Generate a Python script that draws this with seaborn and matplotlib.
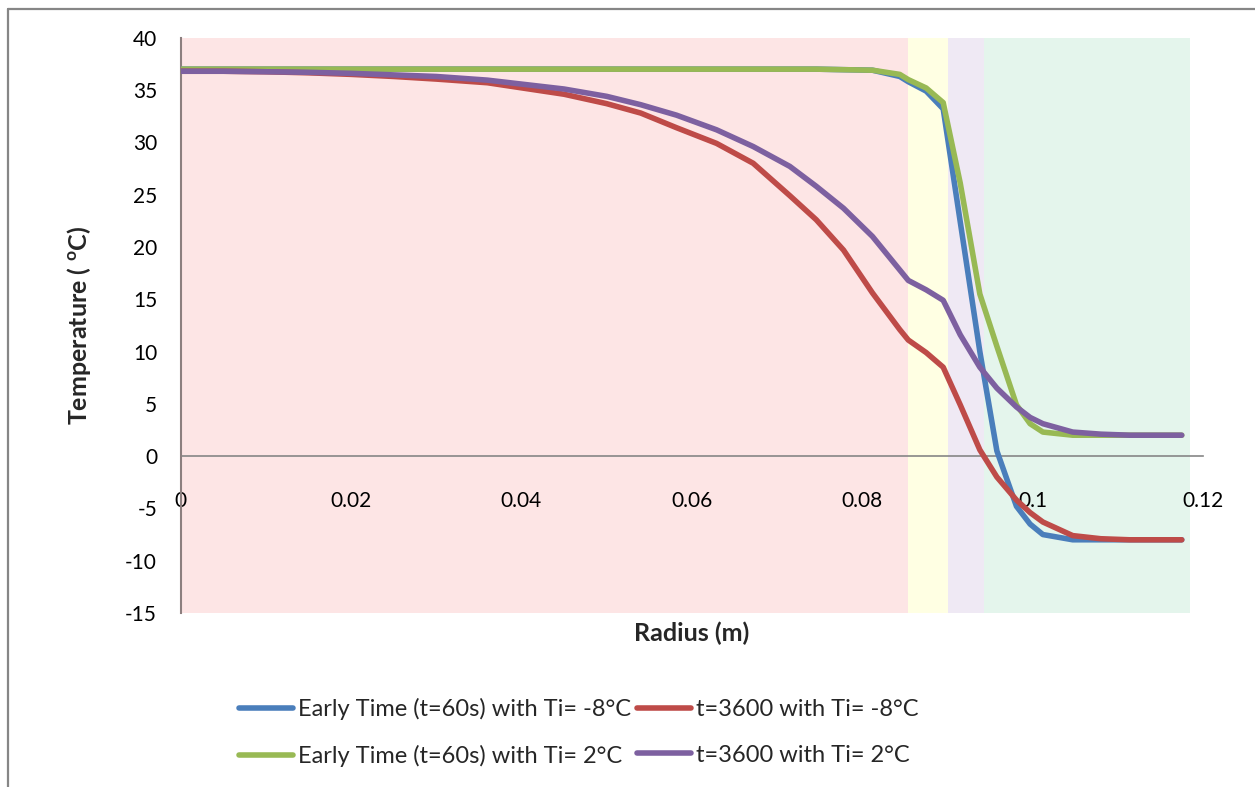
import numpy as np
import pandas as pd
import matplotlib.pyplot as plt
import seaborn as sns
from matplotlib.lines import Line2D

# radius grid (m)
radius = [0.0, 0.005, 0.01, 0.015, 0.02, 0.025, 0.03, 0.036, 0.045, 0.05,
          0.054, 0.0582, 0.0629, 0.0672, 0.0715, 0.0746, 0.0778, 0.0812, 0.0844,
          0.0854, 0.0875, 0.0895, 0.0915, 0.0938, 0.0958, 0.0981, 0.0997, 0.1012,
          0.1047, 0.108, 0.1114, 0.1145, 0.1175]

early_m8 = [37.0, 37.0, 37.0, 37.0, 37.0, 37.0, 37.0, 37.0, 37.0, 37.0,
            37.0, 37.0, 37.0, 37.0, 37.0, 37.0, 36.95, 36.9, 36.3,
            35.8, 34.9, 33.2, 22.4, 10.0, 0.5, -4.8, -6.5, -7.5,
            -8.0, -8.0, -8.0, -8.0, -8.0]

late_m8 = [36.8, 36.8, 36.75, 36.65, 36.5, 36.3, 36.05, 35.7, 34.6, 33.7,
           32.8, 31.4, 29.9, 28.0, 24.9, 22.6, 19.7, 15.6, 12.1,
           11.1, 9.9, 8.5, 4.9, 0.6, -2.0, -4.2, -5.4, -6.3,
           -7.6, -7.9, -8.0, -8.0, -8.0]

early_p2 = [37.0, 37.0, 37.0, 37.0, 37.0, 37.0, 37.0, 37.0, 37.0, 37.0,
            37.0, 37.0, 37.0, 37.0, 37.0, 37.0, 36.95, 36.9, 36.5,
            36.0, 35.2, 33.8, 26.1, 15.5, 10.5, 4.9, 3.1, 2.3,
            2.0, 2.0, 2.0, 2.0, 2.0]

late_p2 = [36.8, 36.8, 36.75, 36.7, 36.6, 36.45, 36.3, 35.95, 35.1, 34.4,
           33.6, 32.6, 31.2, 29.6, 27.7, 25.8, 23.7, 21.0, 17.8,
           16.8, 15.9, 14.9, 11.6, 8.5, 6.5, 4.7, 3.7, 3.1,
           2.3, 2.1, 2.0, 2.0, 2.0]

labels = ['Early Time (t=60s) with Ti= -8\u00b0C', 't=3600 with Ti= -8\u00b0C',
          'Early Time (t=60s) with Ti= 2\u00b0C', 't=3600 with Ti= 2\u00b0C']
colors = ['#4A7EBB', '#BE4B48', '#98B954', '#7D60A0']

# layer boundaries (m)
layers = [0.0, 0.0854, 0.0901, 0.0943, 0.1185]
layer_colors = ['#FDE5E5', '#FFFFE3', '#EFE9F4', '#E4F5EC']

df = pd.concat([
    pd.DataFrame({'radius': radius, 'temp': early_m8, 'series': labels[0]}),
    pd.DataFrame({'radius': radius, 'temp': late_m8, 'series': labels[1]}),
    pd.DataFrame({'radius': radius, 'temp': early_p2, 'series': labels[2]}),
    pd.DataFrame({'radius': radius, 'temp': late_p2, 'series': labels[3]}),
])

sns.set_style('white')
plt.rcParams['font.family'] = ['Lato', 'DejaVu Sans']
plt.rcParams['axes.unicode_minus'] = False
plt.rcParams['mathtext.fontset'] = 'custom'
plt.rcParams['mathtext.bf'] = 'Lato:bold'
plt.rcParams['mathtext.rm'] = 'Lato'

fig = plt.figure(figsize=(12.55, 7.87), dpi=100)
ax = fig.add_axes([0.144, 0.2211, 0.8146, 0.7309])

for i in range(4):
    ax.axvspan(layers[i], layers[i + 1], color=layer_colors[i], lw=0, zorder=0)

order = [labels[0], labels[2], labels[1], labels[3]]
pal = dict(zip(labels, colors))
sns.lineplot(data=df, x='radius', y='temp', hue='series', hue_order=order,
             palette=pal, lw=4, legend=False, ax=ax, zorder=3,
             solid_capstyle='round', solid_joinstyle='round')

ax.set_xlim(0, 0.12)
ax.set_ylim(-15, 40)
ax.set_xticks([0, 0.02, 0.04, 0.06, 0.08, 0.1, 0.12])
ax.set_xticklabels(['0', '0.02', '0.04', '0.06', '0.08', '0.1', '0.12'])
ax.set_yticks(range(-15, 41, 5))

for s in ['top', 'right']:
    ax.spines[s].set_visible(False)
ax.spines['bottom'].set_position(('data', 0))
ax.spines['bottom'].set_color('#868686')
ax.spines['left'].set_color('#8C7F7F')
ax.spines['bottom'].set_linewidth(1.2)
ax.spines['left'].set_linewidth(1.5)
ax.spines['bottom'].set_zorder(2)

ax.tick_params(axis='x', direction='out', length=5, width=1.2, color='#868686',
               pad=20, labelsize=15, labelcolor='black')
ax.tick_params(axis='y', direction='out', length=6, width=1.2, color='#868686',
               pad=11, labelsize=15, labelcolor='black')

ax.set_xlabel('Radius (m)', fontsize=18, fontweight='bold')
ax.xaxis.set_label_coords(0.5, -0.014)
ax.set_ylabel(r'Temperature ( $^{\mathbf{o}}$C)', fontsize=18, fontweight='bold')
ax.yaxis.set_label_coords(-0.086, 0.5)

handles = [Line2D([], [], color=c, lw=4, solid_capstyle='round') for c in colors]
# ncol fills column-wise, so reorder to get row-wise layout
leg_order = [0, 2, 1, 3]
fig.legend([handles[i] for i in leg_order], [labels[i] for i in leg_order],
           ncol=2, loc='center', bbox_to_anchor=(0.461, 0.0695),
           frameon=False, fontsize=17, handlelength=2.3, handletextpad=0.2,
           columnspacing=0.25, labelspacing=1.05)

# chart frame (left and top edges)
fig.add_artist(Line2D([7.7 / 1255, 7.7 / 1255], [0, 1 - 8.5 / 787],
                      transform=fig.transFigure, color='#868686', lw=1.6))
fig.add_artist(Line2D([7.7 / 1255, 1], [1 - 8.5 / 787, 1 - 8.5 / 787],
                      transform=fig.transFigure, color='#868686', lw=1.6))

fig.savefig('out.png', dpi=100)
